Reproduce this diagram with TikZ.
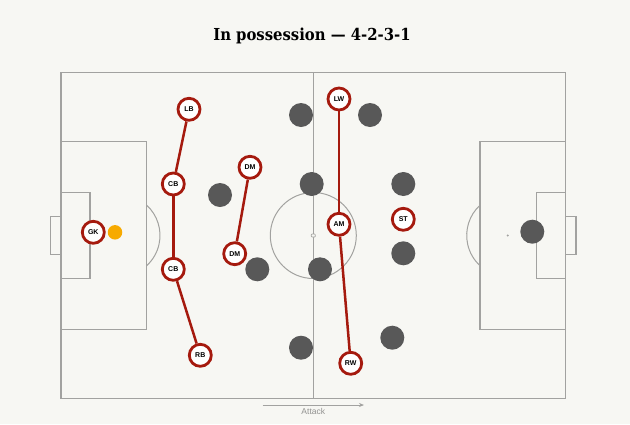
\documentclass[tikz,border=0pt]{standalone}
\usepackage{fontspec}
\setmainfont{Liberation Sans}
\newfontfamily\titlefont{DejaVu Serif Condensed}
\usetikzlibrary{arrows.meta}
\definecolor{paper}{RGB}{247,247,243}
\definecolor{chalk}{RGB}{162,162,160}
\definecolor{kitred}{RGB}{165,26,14}
\definecolor{rival}{RGB}{88,88,88}
\definecolor{ballcol}{RGB}{247,170,0}

\begin{document}
\begin{tikzpicture}[x=1pt,y=-1pt,
	pitchline/.style={draw=chalk,line width=1.4pt},
	thinline/.style={draw=chalk,line width=1pt},
	player/.style={circle,draw=kitred,fill=white,line width=2.8pt,minimum size=22pt,inner sep=0pt,font=\bfseries\fontsize{7}{8}\selectfont},
	rival/.style={circle,fill=rival,minimum size=24pt,inner sep=0pt},
	link/.style={draw=kitred,line width=2.5pt}]
					\fill[paper] (0,0) rectangle (630,424);
					\useasboundingbox (0,0) rectangle (630,424);
					
					%TITLE
					\node[anchor=base,font=\titlefont\bfseries\fontsize{16.5}{18}\selectfont] (title) at (312,40.7) {In possession — 4-2-3-1};
					
					%PITCH
					\draw[pitchline] (61,72.7) rectangle (565.7,398.3);
					\draw[pitchline] (313.3,72.7) -- (313.3,398.3);
					\draw[pitchline] (61,141.3) rectangle (146.7,329.3);
					\draw[pitchline] (61,192.7) rectangle (90,278.3);
					\draw[pitchline] (61,216.7) rectangle (50.7,254.3);
					\draw[pitchline] (480,141.3) rectangle (565.7,329.3);
					\draw[pitchline] (536.3,192.7) rectangle (565.7,278.3);
					\draw[pitchline] (565.7,216.7) rectangle (576,254.3);
					\draw[thinline] (313.3,235.5) circle (43);
					\draw[thinline] (146.7,205.2) arc (-47.5:47.5:41);
					\draw[thinline] (480,205.2) arc (227.5:132.5:41);
					\filldraw[draw=chalk,fill=paper,line width=0.7pt,rounded corners=0.8pt] (311.3,234) rectangle (315.3,237);
					\fill[chalk] (507.7,235.5) circle (1.1);
					
					%OPPONENTS
					\node[rival] (o1) at (301,115) {};
					\node[rival] (o2) at (370,115) {};
					\node[rival] (o3) at (220,195) {};
					\node[rival] (o4) at (311.7,184) {};
					\node[rival] (o5) at (403.3,184) {};
					\node[rival] (o6) at (532.3,231.7) {};
					\node[rival] (o7) at (257.3,269.3) {};
					\node[rival] (o8) at (320,269.3) {};
					\node[rival] (o9) at (403.3,253.3) {};
					\node[rival] (o10) at (301,347.7) {};
					\node[rival] (o11) at (392.3,337.7) {};
					
					%PLAYERS
					\node[player] (gk) at (93.3,232.3) {GK};
					\node[circle,fill=ballcol,minimum size=14.5pt,inner sep=0pt] (ball) at (115,232.3) {};
					\node[player] (lb) at (189,109.3) {LB};
					\node[player] (lcb) at (173.3,184) {CB};
					\node[player] (rcb) at (173.3,269.3) {CB};
					\node[player] (rb) at (200.3,355.3) {RB};
					\node[player] (ldm) at (250,167.3) {DM};
					\node[player] (rdm) at (234.7,253.7) {DM};
					\node[player] (lw) at (339,99) {LW};
					\node[player] (am) at (339,224.3) {AM};
					\node[player] (rw) at (350.7,363.3) {RW};
					\node[player] (st) at (403.3,219.3) {ST};
					
					%LINKS
					\draw[link] (lb) -- (lcb);
					\draw[link] (lcb) -- (rcb);
					\draw[link] (rcb) -- (rb);
					\draw[link] (ldm) -- (rdm);
					\draw[link] (lw) -- (am);
					\draw[link] (am) -- (rw);
					
					%ATTACK
					\coordinate (from) at (262.7,405);
					\coordinate (to) at (364,405);
					\draw[chalk,line width=1pt,-{Stealth[length=5pt,width=4pt]}] (from) -- (to);
					\node[anchor=base,text=chalk!90!black,font=\fontsize{8.5}{9}\selectfont] (attack) at (313.3,414.3) {Attack};
				  \end{tikzpicture}
\end{document}
